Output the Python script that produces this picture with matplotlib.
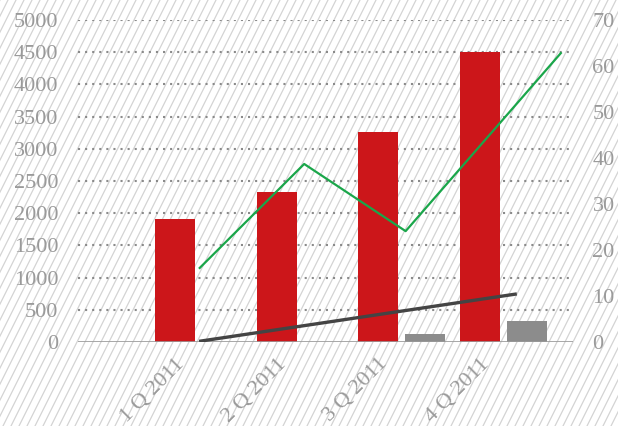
import matplotlib
matplotlib.use("Agg")
import matplotlib.pyplot as plt
from matplotlib.lines import Line2D
import numpy as np

categories = ['1 Q 2011', '2 Q 2011', '3 Q 2011', '4 Q 2011']
red_values = [1910, 2330, 3260, 4500]
gray_values = [0, 0, 125, 325]
green_x = [0.24, 1.27, 2.27, 3.80]
green_values = [16.1, 38.7, 24.1, 62.8]
dark_x = [0.25, 3.35]
dark_values = [0.2, 10.4]
left_ticks = [0, 500, 1000, 1500, 2000, 2500, 3000, 3500, 4000, 4500, 5000]
right_ticks = [0, 10, 20, 30, 40, 50, 60, 70]

W, H = 618, 426
fig = plt.figure(figsize=(W / 100, H / 100), dpi=100)
fig.patch.set_facecolor('white')

# diagonal stripe background
dx = H / 2.0
for c in np.arange(-dx, W + 8, 8.0):
    fig.add_artist(Line2D([c / W, (c + dx) / W], [0, 1], transform=fig.transFigure,
                          color='#d4d4d4', lw=0.9, zorder=0))

ax = fig.add_axes([78 / W, 84 / H, (573 - 78) / W, (406 - 84) / H])
ax.patch.set_alpha(0)
ax2 = ax.twinx()
ax2.patch.set_alpha(0)

x = np.arange(len(categories))
bw = 0.395
off = 0.464

font = dict(family='Liberation Serif', size=16, color='#9a9a9a')

ax.set_xlim(-0.96, 3.92)
ax.set_ylim(0, 5000)
ax2.set_ylim(0, 70)

for y in left_ticks[1:]:
    ax.axhline(y, color='#8a8a8a', lw=1.5, dashes=(1.0, 2.4), zorder=1)
ax.axhline(0, color='#9a9a9a', lw=1.2, zorder=3)

ax.bar(x, red_values, width=bw, color='#cc161a', zorder=2)
ax.bar(x + off, gray_values, width=bw, color='#8c8c8c', zorder=2)

ax2.plot(green_x, green_values, color='#1aa64a', lw=1.6, zorder=4)
ax2.plot(dark_x, dark_values, color='#444444', lw=2.4, zorder=4)

for a in (ax, ax2):
    for s in a.spines.values():
        s.set_visible(False)

ax.set_yticks(left_ticks)
ax.set_yticklabels([str(t) for t in left_ticks], fontdict=font)
ax.tick_params(axis='y', length=0, pad=14)
ax2.set_yticks(right_ticks)
ax2.set_yticklabels([str(t) for t in right_ticks], fontdict=font)
ax2.tick_params(axis='y', length=0, pad=14)

ax.set_xticks(x)
ax.set_xticklabels(categories, fontdict=font, rotation=45, ha='right', va='top',
                   rotation_mode='anchor')
ax.tick_params(axis='x', length=0, pad=9)

fig.savefig('out.png', dpi=100, facecolor=fig.get_facecolor())
